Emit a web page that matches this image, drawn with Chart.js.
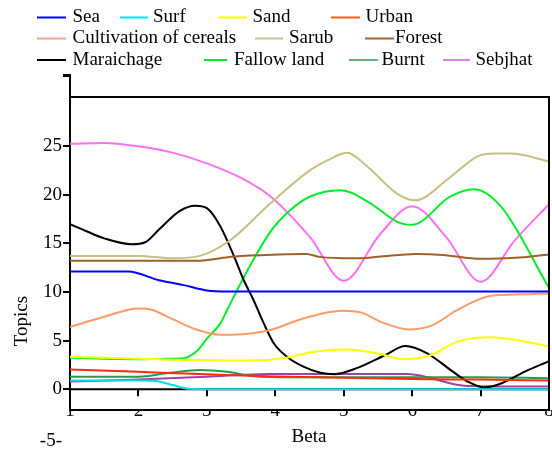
<html lang="en">
<head>
<meta charset="UTF-8">
<title>Topics vs Beta</title>
<script src="https://cdn.jsdelivr.net/npm/chart.js@4.4.0/dist/chart.umd.min.js"></script>
<style>
  body { margin: 0; background: #fff; }
  canvas { display: block; }
  .preload { font-family: "Liberation Serif"; font-size: 19px; position: absolute; left: -999px; top: 0; }
</style>
</head>
<body>
<span class="preload">Topics Beta 0123456789</span>
<canvas id="myChart" width="552" height="449"></canvas>
<script>
// series (beta on x, topics on y)
var seriesNames = ["Sea", "Surf", "Sand", "Urban", "Cultivation of cereals", "Sarub", "Forest",
                   "Maraichage", "Fallow land", "Burnt", "Sebjhat"]
var yTickValues = [0, 5, 10, 15, 20, 25]

var seaBeta = [1, 1.5, 1.85, 2.3, 2.66, 3.0, 3.3, 4, 5, 6, 7, 8]
var seaTopics = [12.1, 12.1, 12.1, 11.2, 10.7, 10.15, 10.05, 10.05, 10.05, 10.05, 10.05, 10.05]

var surfBeta = [1, 1.5, 2, 2.25, 2.5, 2.75, 3, 4, 5, 6, 7, 8]
var surfTopics = [0.9, 0.9, 0.9, 0.85, 0.45, 0.05, 0, 0, 0, 0, 0, 0]

var sandBeta = [1, 1.5, 2, 2.5, 3, 3.6, 4.17, 4.56, 5.05, 5.49, 5.88, 6.27, 6.66, 7.15, 7.54, 8]
var sandTopics = [3.35, 3.25, 3.15, 3.05, 3.0, 2.95, 3.25, 3.86, 4.1, 3.7, 3.1, 3.5, 4.9, 5.35, 5.05, 4.4]

var urbanBeta = [1, 2, 3, 4, 5, 6, 7, 8]
var urbanTopics = [2.05, 1.8, 1.55, 1.33, 1.2, 1.05, 1.0, 0.9]

var cultBeta = [1, 1.5, 2, 2.2, 2.5, 2.8, 3.2, 3.6, 3.93, 4.42, 4.98, 5.25, 5.55, 5.95, 6.3, 6.65, 7.15, 7.6, 8]
var cultTopics = [6.4, 7.45, 8.3, 8.15, 7.2, 6.25, 5.6, 5.7, 6.1, 7.3, 8.07, 7.9, 6.9, 6.15, 6.6, 8.1, 9.6, 9.75, 9.85]

var sarubBeta = [1, 1.5, 2, 2.5, 2.9, 3.34, 3.93, 4.51, 4.76, 5.05, 5.34, 5.78, 6.04, 6.56, 6.95, 7.2, 7.44, 8]
var sarubTopics = [13.7, 13.7, 13.7, 13.45, 13.7, 15.3, 19.1, 22.5, 23.5, 24.3, 22.9, 20.1, 19.4, 21.8, 23.9, 24.2, 24.2, 23.4]

var forestBeta = [1, 2, 2.85, 3.4, 4.05, 4.45, 4.65, 5.15, 5.5, 6.05, 6.45, 7.0, 7.5, 8]
var forestTopics = [13.2, 13.2, 13.2, 13.65, 13.85, 13.9, 13.6, 13.45, 13.6, 13.9, 13.8, 13.4, 13.5, 13.85]

var maraBeta = [1, 1.25, 1.5, 1.9, 2.1, 2.3, 2.6, 2.83, 3.0, 3.2, 3.4, 3.54, 3.68, 3.83, 3.98, 4.17,
                4.42, 4.66, 4.86, 5.2, 5.6, 5.9, 6.22, 6.56, 6.81, 7.05, 7.3, 7.64, 8]
var maraTopics = [16.95, 16.2, 15.5, 14.9, 15.1, 16.4, 18.3, 18.85, 18.6, 16.7, 13.6, 11.2, 9.2, 6.8, 4.7, 3.35,
                  2.3, 1.7, 1.55, 2.2, 3.5, 4.45, 3.7, 2.0, 0.8, 0.2, 0.6, 1.8, 2.9]

var fallowBeta = [1, 1.5, 2, 2.4, 2.66, 2.85, 3.0, 3.2, 3.3, 3.54, 3.68, 3.93, 4.22, 4.51, 4.95, 5.39, 5.78, 6.0, 6.56, 6.9, 7.3, 8]
var fallowTopics = [3.25, 3.15, 3.1, 3.15, 3.2, 3.9, 5.2, 6.8, 8.2, 11.5, 13.3, 16.2, 18.4, 19.8, 20.45, 19.1, 17.2, 16.9, 19.8, 20.55, 18.75, 10.4]

var burntBeta = [1, 2, 2.46, 2.9, 3.29, 3.69, 4.2, 5, 6, 7, 8]
var burntTopics = [1.3, 1.3, 1.7, 1.98, 1.8, 1.35, 1.25, 1.25, 1.25, 1.25, 1.15]

var sebBeta = [1, 1.5, 2, 2.5, 3, 3.5, 3.93, 4.51, 5, 5.54, 6, 6.5, 7, 7.5, 8]
var sebTopics = [25.2, 25.3, 24.95, 24.3, 23.2, 21.7, 19.8, 15.6, 11.15, 16.0, 18.8, 15.6, 11.05, 15.3, 19.0]

// unlabelled purple line near the bottom
var otherBeta = [1, 2, 3, 3.9, 5, 5.93, 6.81, 8]
var otherTopics = [0.8, 1.0, 1.3, 1.58, 1.58, 1.58, 0.34, 0.28]

var lineColors = ["#0000ff", "#00e0e8", "#ffff00", "#ff2a10", "#ff9c66", "#c8c080", "#a0602c",
                  "#000000", "#00ee2a", "#2a9a4a", "#ff70f0"]
var legendColors = ["#0000ff", "#00e8f0", "#ffff00", "#ff5a10", "#ffa090", "#c8c090", "#a0602c",
                    "#000000", "#00ee2a", "#60b080", "#e080e0"]

var serif = '"Liberation Serif", "Times New Roman", Times, serif'

function pts(xs, ys) {
  return xs.map((x, i) => ({ x: x, y: ys[i] }))
}

var allBeta = [seaBeta, surfBeta, sandBeta, urbanBeta, cultBeta, sarubBeta, forestBeta, maraBeta, fallowBeta, burntBeta, sebBeta]
var allTopics = [seaTopics, surfTopics, sandTopics, urbanTopics, cultTopics, sarubTopics, forestTopics, maraTopics, fallowTopics, burntTopics, sebTopics]

var datasets = seriesNames.map((name, i) => ({
  label: name,
  data: pts(allBeta[i], allTopics[i]),
  borderColor: lineColors[i]
}))
datasets.splice(10, 0, { label: "", data: pts(otherBeta, otherTopics), borderColor: "#a040a8" })

// legend layout: [lineStart, lineEnd, textX, rowY]
var legendSpots = [
  [37, 66, 72.5, 17.5], [120, 148, 153, 17.5], [218, 247, 252.5, 17.5], [331, 360, 365.5, 17.5],
  [37, 66, 72.5, 38.5], [255, 283, 289, 38.5], [365, 394, 395, 38.5],
  [37, 66, 72.5, 60], [204, 227, 234, 60], [349, 378, 381.5, 60], [443, 470, 475.5, 60]
]

var decorations = {
  id: "decorations",
  beforeDatasetsDraw(chart) {
    var c = chart.ctx, xs = chart.scales.x, ys = chart.scales.y
    var y0 = ys.getPixelForValue(0)
    c.save()
    c.strokeStyle = "#000"
    c.lineWidth = 2
    c.beginPath()
    c.moveTo(xs.left, y0); c.lineTo(xs.right, y0)
    for (var b = 2; b <= 7; b++) {
      var px = Math.round(xs.getPixelForValue(b))
      c.moveTo(px, y0); c.lineTo(px, y0 + 7)
    }
    c.stroke()
    c.restore()
  },
  afterDraw(chart) {
    var c = chart.ctx, xs = chart.scales.x, ys = chart.scales.y
    c.save()
    // frame: top line at 30, right side at 8, left axis reaching the top tick
    c.strokeStyle = "#000"
    c.lineWidth = 2
    var yt = ys.getPixelForValue(30), xr = xs.getPixelForValue(8)
    c.beginPath()
    c.moveTo(xs.left, yt); c.lineTo(xr, yt); c.lineTo(xr, ys.bottom)
    c.moveTo(xs.left - 7, ys.top + 1); c.lineTo(xs.left, ys.top + 1); c.lineTo(xs.left, yt)
    c.stroke()

    c.fillStyle = "#000"
    c.font = "19px " + serif
    c.textBaseline = "middle"
    c.textAlign = "center"
    c.fillText("Beta", 309, 437)
    c.textAlign = "right"
    c.fillText("-5-", 62, 441)
    c.save()
    c.translate(22, 321)
    c.rotate(-Math.PI / 2)
    c.textAlign = "center"
    c.fillText("Topics", 0, 0)
    c.restore()

    // legend
    c.textAlign = "left"
    legendSpots.forEach((s, i) => {
      c.strokeStyle = legendColors[i]
      c.lineWidth = 2
      c.beginPath()
      c.moveTo(s[0], s[3]); c.lineTo(s[1], s[3])
      c.stroke()
      c.fillStyle = "#000"
      c.fillText(seriesNames[i], s[2], s[3])
    })
    c.restore()
  }
}

function drawChart() {
  new Chart("myChart", {
    type: "line",
    data: { datasets: datasets },
    options: {
      responsive: false,
      animation: false,
      layout: { padding: { top: 75, right: 3, left: 0, bottom: 0 } },
      plugins: { legend: { display: false }, tooltip: { enabled: false } },
      elements: {
        point: { radius: 0 },
        line: { borderWidth: 2, cubicInterpolationMode: "monotone", fill: false }
      },
      scales: {
        x: {
          type: "linear", min: 1, max: 8,
          grid: { display: false, drawTicks: false },
          border: { display: true, color: "#000", width: 2 },
          ticks: { stepSize: 1, color: "#000", font: { family: serif, size: 19 }, padding: -10, maxRotation: 0, autoSkip: false },
          afterFit(s) { s.height = 39; s.paddingLeft = 0; s.paddingRight = 0 }
        },
        y: {
          min: -2.12, max: 32.27,
          grid: { drawOnChartArea: false, drawTicks: true, tickLength: 7, color: "#000", lineWidth: 2 },
          border: { display: true, color: "#000", width: 2 },
          ticks: { color: "#000", font: { family: serif, size: 19 }, padding: 1, callback: v => (v > 30 ? "" : v) },
          afterBuildTicks(s) { s.ticks = yTickValues.map(v => ({ value: v })).concat([{ value: s.max }]) },
          afterFit(s) { s.width = 70; s.paddingTop = 0; s.paddingBottom = 0 }
        }
      }
    },
    plugins: [decorations]
  })
}

document.fonts.load('19px "Liberation Serif"').then(drawChart, drawChart)
</script>
</body>
</html>
